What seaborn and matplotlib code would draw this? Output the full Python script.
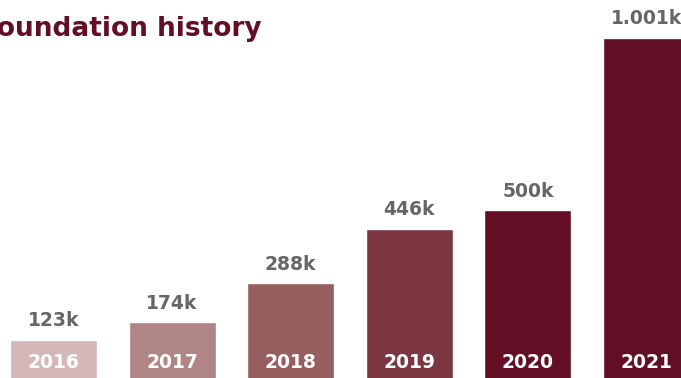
import matplotlib
matplotlib.use('Agg')
import matplotlib.pyplot as plt
import seaborn as sns
import pandas as pd

# Data
years = ['2016', '2017', '2018', '2019', '2020', '2021']
members = [123, 174, 288, 446, 500, 1001]   # thousands
value_labels = ['123k', '174k', '288k', '446k', '500k', '1.001k']
bar_colors = ['#d4b8b8', '#b08585', '#975e5f', '#7b3640', '#620e24', '#620e24']

title_color = '#620e24'
label_gray = '#666666'

sns.set_theme(style='white')
plt.rcParams['font.family'] = ['DejaVu Sans']

df = pd.DataFrame({'year': years, 'members': members})

fig = plt.figure(figsize=(6.81, 3.78), dpi=100)
ax = fig.add_axes([0, 0, 1, 1])

sns.barplot(data=df, x='year', y='members', hue='year', palette=bar_colors,
            saturation=1, width=0.733, legend=False, ax=ax)

# crop like the reference: first bar near the left edge, baseline just below
ax.set_xlim(-0.451, 5.291)
ax.set_ylim(12.8, 1110.7)
ax.axis('off')

for patch, year, lab in zip(ax.patches, years, value_labels):
    cx = patch.get_x() + patch.get_width() / 2
    top = patch.get_height()
    ax.annotate(lab, xy=(cx, top), xytext=(0, 7), textcoords='offset points',
                ha='center', va='bottom', fontsize=13.5, fontweight='bold',
                color=label_gray)
    ax.annotate(year, xy=(cx, 12.8), xytext=(0, 4.5), textcoords='offset points',
                ha='center', va='bottom', fontsize=13.5, fontweight='bold',
                color='white')

fig.text(262 / 681, 1 - 36 / 378, 'Foundation history', ha='right',
         va='baseline', fontsize=19, fontweight='bold', color=title_color)

fig.savefig('out.png', dpi=100)
plt.close(fig)
